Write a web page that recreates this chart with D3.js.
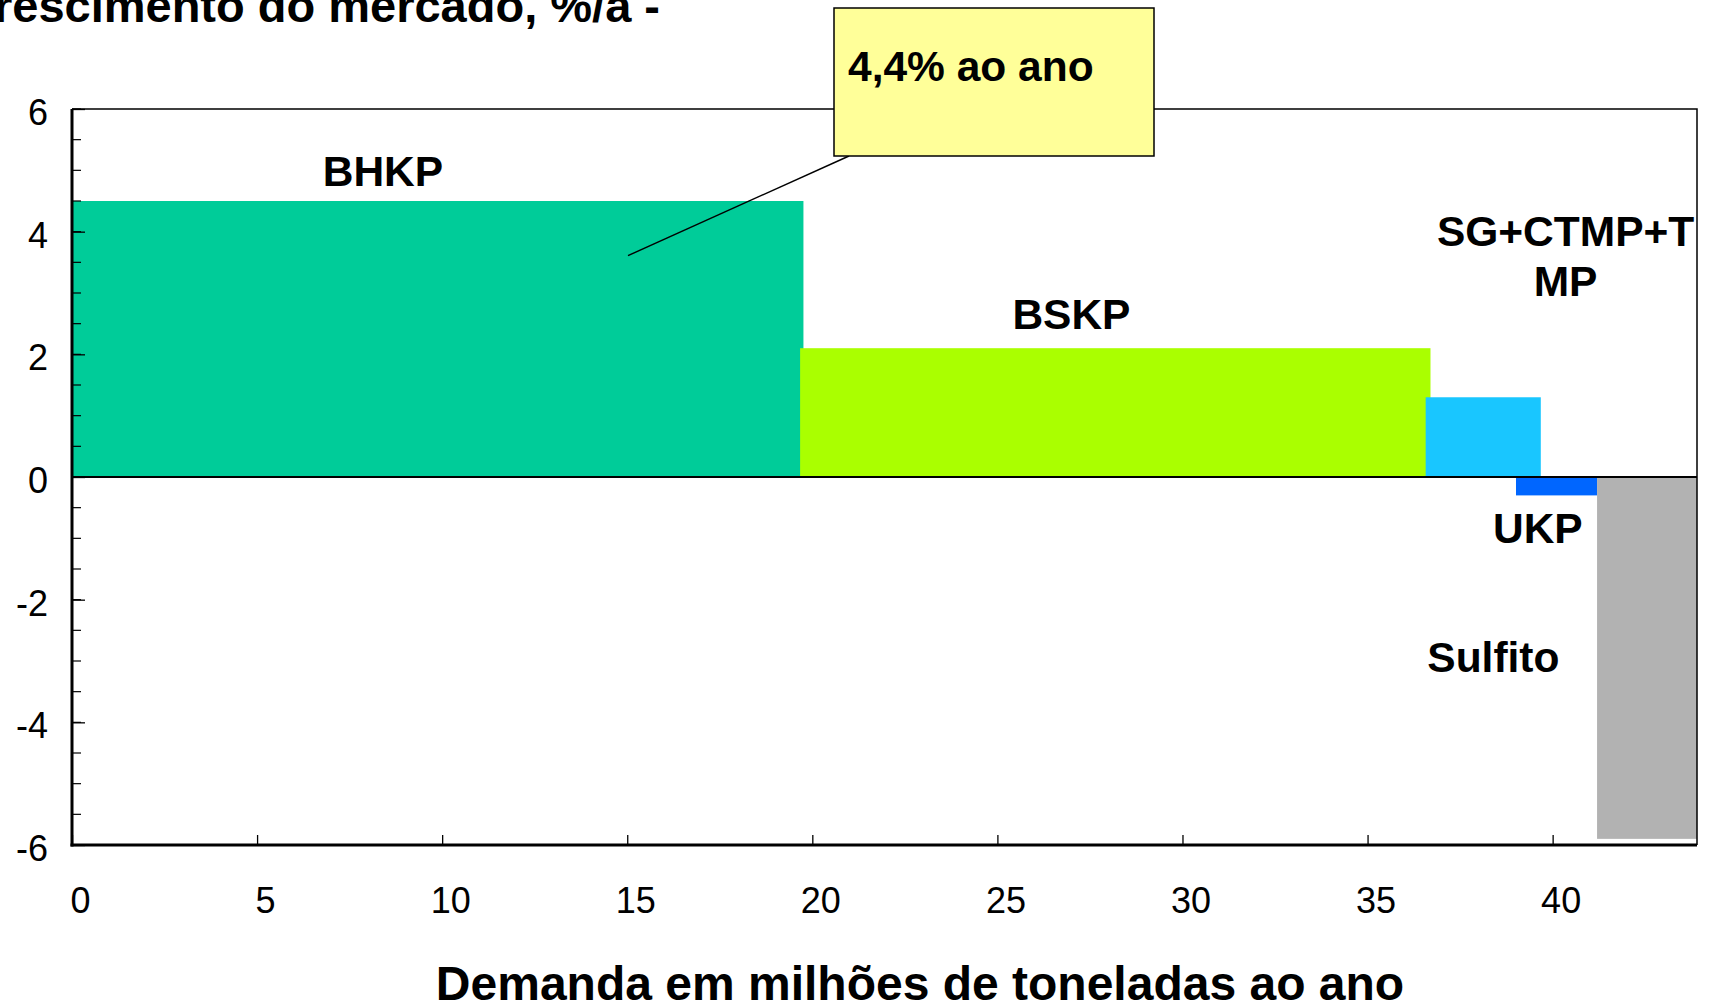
<!DOCTYPE html>
<html>
<head>
<meta charset="utf-8">
<script src="https://cdn.jsdelivr.net/npm/d3@7"></script>
<style>
  body { margin: 0; background: #fff; }
  svg { display: block; font-family: "Liberation Sans", Arial, sans-serif; }
  .lbl { font-weight: bold; font-size: 42.5px; fill: #000; }
</style>
</head>
<body>
<svg width="1712" height="1008"></svg>
<script>
// pulp segments: demand (cumulative, Mt/a) vs market growth (%/a)
var segments = ["BHKP", "BSKP", "SG+CTMP+TMP", "UKP", "Sulfito"];
var demandStart = [0, 19.67, 36.57, 39.01, 41.2];
var demandEnd = [19.76, 36.7, 39.68, 41.2, 43.9];
var growth = [4.5, 2.1, 1.3, -0.3, -5.9];
var colors = ["#00cc99", "#aaff00", "#19c6ff", "#0066ff", "#b2b2b2"];

var xTicks = [0, 5, 10, 15, 20, 25, 30, 35, 40];
var yTicks = [-6, -4, -2, 0, 2, 4, 6];
var yMinor = d3.range(-6, 6.01, 0.5);

var svg = d3.select("svg");
var mLeft = 72, mRight = 1697, mTop = 109, mBottom = 845;

var x = d3.scaleLinear().domain([0, 43.9]).range([mLeft, mRight]);
var y = d3.scaleLinear().domain([-6, 6]).range([mBottom, mTop]);

// bars
svg.append("g").selectAll("rect")
    .data(segments)
  .enter().append("rect")
    .attr("x", function(d, i) { return x(demandStart[i]); })
    .attr("width", function(d, i) { return x(demandEnd[i]) - x(demandStart[i]); })
    .attr("y", function(d, i) { return y(Math.max(0, growth[i])); })
    .attr("height", function(d, i) { return Math.abs(y(growth[i]) - y(0)); })
    .style("fill", function(d, i) { return colors[i]; });

// zero line
svg.append("line")
    .attr("x1", mLeft).attr("x2", mRight)
    .attr("y1", y(0)).attr("y2", y(0))
    .style("stroke", "#000").style("stroke-width", 2);

// frame top / right
svg.append("path")
    .attr("d", "M" + mLeft + "," + mTop + "H" + mRight + "V" + mBottom)
    .style("fill", "none").style("stroke", "#000").style("stroke-width", 1.5);

// minor y ticks
svg.append("g").selectAll("line")
    .data(yMinor)
  .enter().append("line")
    .attr("x1", mLeft).attr("x2", mLeft + 9)
    .attr("y1", function(d) { return y(d); })
    .attr("y2", function(d) { return y(d); })
    .style("stroke", "#000").style("stroke-width", 1.2);

var plain = function(d) { return String(d); };

var yAxis = svg.append("g")
    .attr("transform", "translate(" + mLeft + ",0)")
    .call(d3.axisLeft(y).tickValues(yTicks).tickFormat(plain)
        .tickSizeInner(-13).tickSizeOuter(0).tickPadding(24));

var xAxis = svg.append("g")
    .attr("transform", "translate(0," + mBottom + ")")
    .call(d3.axisBottom(x).tickValues(xTicks).tickFormat(plain)
        .tickSizeInner(-10).tickSizeOuter(0).tickPadding(42));

[yAxis, xAxis].forEach(function(a) {
    a.select(".domain").style("stroke-width", 3);
    a.selectAll(".tick line").style("stroke-width", 1.3);
    a.selectAll(".tick text")
        .style("font-family", "'Liberation Sans', Arial, sans-serif")
        .style("font-size", "36px")
        .style("fill", "#000");
});
xAxis.selectAll(".tick text").attr("dx", 8);
yAxis.selectAll(".tick text").attr("y", 4);
xAxis.select(".domain").attr("d", "M" + (mLeft - 1.5) + ",0H" + mRight);
yAxis.select(".domain").attr("d", "M0," + mTop + "V" + (mBottom + 1.5));

// segment labels
var labelPos = [
  { t: "BHKP", x: 8.4, y: 4.75 },
  { t: "BSKP", x: 27.0, y: 2.42 },
  { t: "SG+CTMP+T", x: 40.35, y: 3.77 },
  { t: "MP", x: 40.35, y: 2.95 },
  { t: "UKP", x: 39.6, y: -1.08 },
  { t: "Sulfito", x: 38.4, y: -3.18 }
];
svg.append("g").selectAll("text")
    .data(labelPos)
  .enter().append("text")
    .attr("class", "lbl")
    .attr("text-anchor", "middle")
    .attr("x", function(d) { return x(d.x); })
    .attr("y", function(d) { return y(d.y); })
    .text(function(d) { return d.t; });

// callout
svg.append("line")
    .attr("x1", x(15.02)).attr("y1", y(3.61))
    .attr("x2", 849).attr("y2", 156)
    .style("stroke", "#000").style("stroke-width", 1.5);
svg.append("rect")
    .attr("x", 834).attr("y", 8)
    .attr("width", 320).attr("height", 148)
    .style("fill", "#ffff99").style("stroke", "#000").style("stroke-width", 1.5);
svg.append("text")
    .attr("class", "lbl")
    .attr("x", 848).attr("y", 81)
    .style("font-size", "42.5px")
    .text("4,4% ao ano");

// titles
svg.append("text")
    .attr("class", "lbl")
    .attr("text-anchor", "end")
    .attr("x", 660).attr("y", 22)
    .style("font-size", "47px")
    .text("Crescimento do mercado, %/a -");

svg.append("text")
    .attr("class", "lbl")
    .attr("text-anchor", "middle")
    .attr("x", 920).attr("y", 1000)
    .style("font-size", "48px")
    .text("Demanda em milhões de toneladas ao ano");
</script>
</body>
</html>
